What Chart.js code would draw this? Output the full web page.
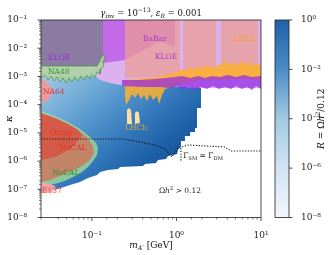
<!DOCTYPE html>
<html>
<head>
<meta charset="utf-8">
<script src="https://cdn.jsdelivr.net/npm/chart.js@4.4.1/dist/chart.umd.min.js"></script>
<style>
  html, body { margin: 0; padding: 0; background: #fff; }
  #wrap { position: relative; width: 328px; height: 255px; }
</style>
</head>
<body>
<div id="wrap"><canvas id="chart" width="328" height="255"></canvas></div>
<script>
// --- axis ranges ---
const massRange = [0.025, 10];      // m_A' [GeV]
const kappaRange = [1e-8, 1e-1];    // kappa
const ratioRange = [1e-8, 1];       // R = Omega h^2 / 0.12
const cbTickValues = [1, 1e-2, 1e-4, 1e-6, 1e-8];

// --- regions, [mass, kappa] ---
const relicRegion = [
  [0.025, 1.03e-3], [1.95, 1.03e-3], [1.95, 7.6e-5], [1.75, 7.6e-5], [1.75, 1.49e-5],
  [1.66, 1.49e-5], [1.66, 1.07e-5], [1.45, 1.07e-5], [1.45, 7.7e-6], [1.26, 7.7e-6],
  [1.26, 5.1e-6], [1.13, 5.1e-6], [1.13, 3.41e-6], [1.04, 2.46e-6], [1.02, 1.78e-6],
  [0.795, 1.51e-6], [0.752, 1.18e-6], [0.605, 1.09e-6], [0.573, 8.53e-7], [0.425, 7.85e-7],
  [0.402, 6.67e-7], [0.215, 6.15e-7], [0.204, 5.22e-7], [0.155, 4.82e-7], [0.125, 4.09e-7],
  [0.115, 3.2e-7], [0.0899, 2.51e-7], [0.0723, 1.81e-7], [0.0551, 1.42e-7], [0.0397, 1.02e-7],
  [0.0303, 8.68e-8], [0.025, 8.0e-8]
];
const kloeLightRegion = [
  [0.109, 0.1], [10, 0.1], [10, 3.89e-4], [1.90, 3.89e-4], [0.733, 4.58e-4],
  [0.246, 4.58e-4], [0.164, 5.85e-4], [0.125, 7.47e-4], [0.109, 1.03e-3]
];
const kloeRegion = [
  [0.025, 0.1], [0.962, 0.1], [0.962, 1.10e-2], [0.795, 1.41e-2], [0.640, 1.66e-2],
  [0.557, 1.53e-2], [0.486, 1.10e-2], [0.370, 7.34e-3], [0.246, 3.82e-3], [0.135, 2.99e-3],
  [0.025, 2.34e-3]
];
const babarRegion = [
  [0.246, 0.1], [1.10, 0.1], [1.10, 1.03e-3], [0.733, 1.03e-3], [0.486, 9.53e-4], [0.246, 8.79e-4]
];
const lhcbRegionA = [
  [1.20, 0.1], [2.94, 0.1], [2.94, 1.03e-3], [1.90, 9.53e-4], [1.20, 9.53e-4]
];
const lhcbRegionB = [
  [3.37, 0.1], [9.22, 0.1], [9.22, 1.12e-3], [5.65, 1.03e-3], [3.37, 1.03e-3]
];
const lhcbBand = [
  [0.246, 7.47e-4], [0.323, 8.11e-4], [0.425, 8.79e-4], [0.557, 9.53e-4], [0.733, 1.12e-3],
  [0.887, 1.32e-3], [1.04, 1.44e-3], [1.16, 1.83e-3], [1.30, 1.56e-3], [1.45, 2.16e-3],
  [1.61, 1.69e-3], [1.80, 2.34e-3], [2.06, 1.83e-3], [2.30, 2.54e-3], [2.63, 1.99e-3],
  [2.94, 2.34e-3], [3.46, 2.75e-3], [3.75, 3.52e-3], [4.19, 2.54e-3], [4.67, 3.24e-3],
  [5.20, 2.34e-3], [5.80, 3.52e-3], [6.47, 2.75e-3], [7.21, 3.24e-3], [8.04, 2.34e-3],
  [8.97, 2.99e-3], [10, 2.34e-3],
  [10, 7.47e-4], [6.47, 8.11e-4], [4.30, 8.11e-4], [2.86, 7.47e-4], [1.90, 7.47e-4],
  [1.45, 6.34e-4], [1.10, 5.39e-4], [0.887, 4.22e-4], [0.733, 3.58e-4], [0.675, 2.19e-4],
  [0.622, 1.05e-4], [0.589, 2.02e-4], [0.528, 1.46e-4], [0.486, 2.38e-4], [0.449, 1.35e-4],
  [0.413, 2.19e-4], [0.381, 1.58e-4], [0.351, 2.58e-4], [0.323, 1.72e-4], [0.298, 2.38e-4],
  [0.275, 1.46e-4], [0.253, 9.70e-5], [0.246, 2.02e-4]
];
const violetBand = [
  [0.227, 7.47e-4], [0.370, 7.47e-4], [0.557, 8.11e-4], [0.733, 8.79e-4], [0.962, 9.53e-4],
  [1.16, 1.03e-3], [1.45, 8.79e-4], [1.80, 1.03e-3], [2.18, 8.79e-4], [2.63, 1.03e-3],
  [3.27, 9.53e-4], [4.07, 1.12e-3], [5.06, 9.53e-4], [6.29, 1.12e-3], [7.83, 9.53e-4],
  [10, 1.03e-3],
  [10, 3.58e-4], [8.73, 4.58e-4], [7.83, 3.30e-4], [6.83, 4.22e-4], [5.96, 3.58e-4],
  [5.06, 4.58e-4], [4.42, 3.58e-4], [3.75, 4.22e-4], [3.18, 3.58e-4], [2.70, 4.58e-4],
  [2.30, 3.58e-4], [1.95, 4.22e-4], [1.66, 3.30e-4], [1.41, 4.22e-4], [1.20, 3.58e-4],
  [1.02, 4.58e-4], [0.840, 3.89e-4], [0.640, 4.22e-4], [0.425, 4.22e-4], [0.227, 4.58e-4]
];
const lhcbIslandA = [[0.260, 6.45e-5], [0.275, 7.60e-5], [0.290, 6.45e-5], [0.298, 2.06e-5], [0.260, 2.06e-5]];
const lhcbIslandB = [[0.323, 5.05e-5], [0.341, 5.94e-5], [0.360, 5.05e-5], [0.370, 2.23e-5], [0.323, 2.06e-5]];
const kloeDarkRegion = [
  [0.025, 0.1], [0.135, 0.1], [0.135, 5.74e-3], [0.125, 3.24e-3], [0.115, 2.34e-3], [0.025, 2.34e-3]
];
const na48Region = [
  [0.025, 2.34e-3], [0.115, 2.34e-3], [0.125, 3.82e-3], [0.135, 6.24e-3], [0.143, 4.50e-3],
  [0.135, 3.24e-3], [0.139, 2.34e-3], [0.128, 1.83e-3], [0.125, 1.22e-3], [0.115, 1.44e-3],
  [0.109, 9.53e-4], [0.100, 1.22e-3], [0.0950, 8.11e-4], [0.0875, 1.12e-3], [0.0807, 7.47e-4],
  [0.0743, 1.03e-3], [0.0685, 6.89e-4], [0.0631, 9.53e-4], [0.0582, 6.34e-4], [0.0536, 8.79e-4],
  [0.0494, 5.85e-4], [0.0455, 8.79e-4], [0.0419, 6.34e-4], [0.0387, 9.53e-4], [0.0356, 6.89e-4],
  [0.0328, 1.03e-3], [0.0303, 7.47e-4], [0.0279, 1.12e-3], [0.025, 8.79e-4]
];
const na64Region = [
  [0.025, 8.11e-4], [0.0286, 6.89e-4], [0.0319, 4.97e-4], [0.0337, 3.04e-4],
  [0.0328, 1.86e-4], [0.0294, 1.35e-4], [0.025, 1.14e-4]
];
const nucalGreenRegion = [
  [0.025, 5.94e-5], [0.0366, 3.95e-5], [0.0522, 2.42e-5], [0.0723, 1.37e-5], [0.0950, 7.13e-6],
  [0.112, 4.36e-6], [0.118, 2.90e-6], [0.115, 1.64e-6], [0.103, 1.00e-6], [0.0899, 6.15e-7],
  [0.0764, 4.09e-7], [0.0631, 2.95e-7], [0.0508, 2.13e-7], [0.0397, 1.67e-7], [0.0319, 1.42e-7],
  [0.025, 1.31e-7]
];
const nucalRedRegion = [
  [0.025, 5.05e-5], [0.0419, 2.85e-5], [0.0631, 1.49e-5], [0.0851, 7.71e-6], [0.103, 3.41e-6],
  [0.106, 1.93e-6], [0.0950, 1.09e-6], [0.0764, 6.68e-7], [0.0582, 4.44e-7], [0.0419, 2.95e-7],
  [0.0319, 2.13e-7], [0.025, 1.81e-7]
];
const orsayRegion = [
  [0.025, 5.05e-5], [0.0366, 3.36e-5], [0.0522, 2.06e-5], [0.0685, 1.26e-5], [0.0764, 8.38e-6],
  [0.0631, 3.71e-6], [0.0481, 2.09e-6], [0.0366, 1.39e-6], [0.025, 1.09e-6]
];
const e137Region = [
  [0.025, 1.67e-7], [0.0319, 1.54e-7], [0.0366, 1.31e-7], [0.0376, 1.02e-7], [0.0337, 8.0e-8], [0.025, 7.37e-8]
];
// Gamma_SM = Gamma_DM contour
const equalWidthLine = [
  [0.025, 6.05e-6], [0.233, 6.05e-6], [0.370, 4.73e-6], [0.557, 3.71e-6], [0.733, 2.67e-6],
  [0.887, 1.39e-6], [1.04, 2.90e-6], [1.37, 3.71e-6], [3.75, 3.15e-6], [4.42, 2.27e-6], [10, 2.27e-6]
];
const equalWidthDrop = [[1.13, 2.90e-6], [1.13, 9.25e-7]];

// --- styles ---
const SERIF = '"DejaVu Serif", serif';
const cbColors = ['#1f60a8', '#4b8dc6', '#a3cae3', '#d3e3f3', '#f1f6fc'];

const sup = s => String(s).replace(/[-0-9]/g, c => ({'-': '⁻', '0': '⁰', '1': '¹', '2': '²', '3': '³', '4': '⁴', '5': '⁵', '6': '⁶', '7': '⁷', '8': '⁸', '9': '⁹'})[c]);
const isDecade = v => { const e = Math.log10(v); return Math.abs(e - Math.round(e)) < 1e-6; };
const decadeLabel = v => isDecade(v) ? '10' + sup(Math.round(Math.log10(v))) : '';

function relicGradient(ctx) {
  const chart = ctx.chart;
  if (!chart.chartArea) return 'rgba(0,0,0,0)';
  const xs = chart.scales.x, ys = chart.scales.y;
  const g = chart.ctx.createLinearGradient(
    xs.getPixelForValue(0.025), ys.getPixelForValue(1e-3),
    xs.getPixelForValue(0.28), ys.getPixelForValue(1.4e-7));
  g.addColorStop(0, '#a3cbe7');
  g.addColorStop(0.2, '#7fb4dc');
  g.addColorStop(0.45, '#5597cd');
  g.addColorStop(0.7, '#3479bb');
  g.addColorStop(0.9, '#2063a9');
  g.addColorStop(1, '#1a5ba2');
  return g;
}

const layers = [
  { pts: relicRegion, fill: relicGradient },
  { pts: kloeLightRegion, fill: '#dcb1f0' },
  { pts: kloeRegion, fill: 'rgba(192,100,232,0.92)' },
  { pts: babarRegion, fill: 'rgba(236,158,146,0.72)' },
  { pts: lhcbRegionA, fill: 'rgba(236,158,146,0.72)' },
  { pts: lhcbRegionB, fill: 'rgba(236,158,146,0.72)' },
  { pts: lhcbBand, fill: 'rgba(250,175,50,0.88)' },
  { pts: violetBand, fill: 'rgba(145,35,230,0.7)' },
  { pts: lhcbIslandA, fill: '#fddfa2' },
  { pts: lhcbIslandB, fill: '#fddfa2' },
  { pts: kloeDarkRegion, fill: '#8b7ba3' },
  { pts: na48Region, fill: 'rgba(172,204,165,0.92)', line: '#3a973a', lw: 0.7 },
  { pts: na64Region, fill: 'rgba(245,150,150,0.85)' },
  { pts: nucalGreenRegion, fill: 'rgba(160,218,150,0.8)' },
  { pts: nucalRedRegion, fill: 'rgba(228,90,70,0.62)' },
  { pts: orsayRegion, fill: 'rgba(225,55,45,0.55)' },
  { pts: e137Region, fill: 'rgba(255,165,165,0.9)' },
  { pts: equalWidthLine, dotted: true },
  { pts: equalWidthDrop, dotted: true }
];

const datasets = layers.map((l, i) => ({
  data: l.pts.map(([x, y]) => ({ x, y })),
  showLine: true,
  pointRadius: 0,
  tension: 0,
  order: layers.length - i,
  fill: l.dotted ? false : 'shape',
  backgroundColor: l.fill || 'rgba(0,0,0,0)',
  borderColor: l.dotted ? '#111' : (l.line || 'rgba(0,0,0,0)'),
  borderWidth: l.dotted ? 1.1 : (l.lw || 0.01),
  borderDash: l.dotted ? [1.2, 1.6] : []
}));

const regionLabels = [
  ['KLOE', 0.0303, 4.5e-3, '#9a2fd6'],
  ['NA48', 0.0303, 1.44e-3, '#2f8f2f'],
  ['NA64', 0.0264, 2.81e-4, '#e8302a'],
  ['Orsay', 0.0319, 9.87e-6, '#e8302a'],
  ['NuCAL', 0.0409, 2.9e-6, '#e8302a'],
  ['NuCAL', 0.0337, 3.77e-7, '#2f8f2f'],
  ['E137', 0.0257, 8.68e-8, '#ff3b3b'],
  ['BaBar', 0.402, 2.12e-2, '#a83ad6'],
  ['KLOE', 0.557, 4.88e-3, '#a83ad6'],
  ['LHCb', 4.67, 2.12e-2, '#f5a623'],
  ['LHCb', 0.246, 1.49e-5, '#d9a441']
];

function drawRich(ctx, parts, x, y, align) {
  const fontOf = p => `${p[2] ? 'italic ' : ''}${p[1]}px ${SERIF}`;
  let w = 0;
  for (const p of parts) { ctx.font = fontOf(p); w += ctx.measureText(p[0]).width; }
  let cx = align === 'center' ? x - w / 2 : x;
  ctx.textAlign = 'left';
  ctx.textBaseline = 'alphabetic';
  for (const p of parts) {
    ctx.font = fontOf(p);
    ctx.fillText(p[0], cx, y + (p[3] || 0));
    cx += ctx.measureText(p[0]).width;
  }
}

function drawTickMarks(ctx, scale, side) {
  ctx.strokeStyle = '#222';
  for (const t of scale.ticks) {
    const v = t.value;
    const major = isDecade(v);
    const len = major ? 3.5 : 2;
    ctx.lineWidth = major ? 0.8 : 0.6;
    const p = scale.getPixelForValue(v);
    ctx.beginPath();
    if (side === 'bottom') { ctx.moveTo(p, scale.top); ctx.lineTo(p, scale.top + len); }
    else { ctx.moveTo(scale.right, p); ctx.lineTo(scale.right - len, p); }
    ctx.stroke();
  }
}

const overlay = {
  id: 'overlay',
  afterDatasetsDraw(chart) {
    const { ctx, scales: { x, y } } = chart;
    ctx.save();
    ctx.font = `7.5px ${SERIF}`;
    ctx.textAlign = 'left';
    ctx.textBaseline = 'middle';
    for (const [t, mx, ky, c] of regionLabels) {
      ctx.fillStyle = c;
      ctx.fillText(t, x.getPixelForValue(mx), y.getPixelForValue(ky));
    }
    ctx.fillStyle = '#222';
    drawRich(ctx, [['Γ', 7.5], ['SM', 5.2, false, 1.5], [' = Γ', 7.5], ['DM', 5.2, false, 1.5]],
      x.getPixelForValue(1.2), y.getPixelForValue(1.64e-6) + 3, 'left');
    drawRich(ctx, [['Ω', 7.5], ['h', 7.5, true], ['2', 5.2, false, -3], [' > 0.12', 7.5]],
      x.getPixelForValue(0.62), y.getPixelForValue(9.4e-8) + 3, 'left');
    ctx.restore();
  },
  afterDraw(chart) {
    const { ctx, chartArea: a, scales: { x, y, cb } } = chart;
    ctx.save();
    // spines
    ctx.strokeStyle = '#222';
    ctx.lineWidth = 0.8;
    ctx.strokeRect(a.left, a.top, a.right - a.left, a.bottom - a.top);
    drawTickMarks(ctx, x, 'bottom');
    drawTickMarks(ctx, y, 'left');

    // colorbar
    const cbL = a.right + 14, cbR = a.right + 28;
    const top = cb.getPixelForValue(ratioRange[1]), bot = cb.getPixelForValue(ratioRange[0]);
    const g = ctx.createLinearGradient(0, top, 0, bot);
    cbTickValues.forEach((v, i) => g.addColorStop((cb.getPixelForValue(v) - top) / (bot - top), cbColors[i]));
    ctx.fillStyle = g;
    ctx.fillRect(cbL, top, cbR - cbL, bot - top);
    ctx.strokeRect(cbL, top, cbR - cbL, bot - top);
    for (const v of cbTickValues) {
      const p = cb.getPixelForValue(v);
      ctx.beginPath(); ctx.moveTo(cbR, p); ctx.lineTo(cbR + 3.5, p); ctx.stroke();
    }

    // titles
    ctx.fillStyle = '#111';
    const cx = (a.left + a.right) / 2;
    drawRich(ctx, [['γ', 8.5, true], ['inv', 6, false, 2], [' = 10', 8.5], ['−13', 6, false, -4],
      [', ', 8.5], ['ε', 8.5, true], ['R', 6, true, 2], [' = 0.001', 8.5]], cx, 16, 'center');
    drawRich(ctx, [['m', 9, true], ['A′', 6.3, true, 2], [' [GeV]', 9]], cx, 248, 'center');

    ctx.save();
    ctx.translate(9, (a.top + a.bottom) / 2);
    ctx.rotate(-Math.PI / 2);
    drawRich(ctx, [['κ', 10, true]], 0, 3, 'center');
    ctx.restore();

    ctx.save();
    ctx.translate(321, (a.top + a.bottom) / 2);
    ctx.rotate(-Math.PI / 2);
    drawRich(ctx, [['R', 9, true], [' = Ω', 9], ['h', 9, true], ['2', 6.2, false, -4], ['/0.12', 9]], 0, 3, 'center');
    ctx.restore();
    ctx.restore();
  }
};

const tickFont = { family: SERIF, size: 9 };

new Chart(document.getElementById('chart'), {
  type: 'scatter',
  data: { datasets },
  options: {
    responsive: false,
    animation: false,
    events: [],
    layout: { padding: { top: 20, left: 0, right: 0, bottom: 0 } },
    plugins: { legend: { display: false }, tooltip: { enabled: false } },
    scales: {
      x: {
        type: 'logarithmic', min: massRange[0], max: massRange[1],
        grid: { display: false }, border: { display: false },
        ticks: { font: tickFont, color: '#222', padding: 5, autoSkip: false, maxRotation: 0, callback: decadeLabel },
        afterFit: s => { s.height = 37.5; s.paddingLeft = 0; s.paddingRight = 0; }
      },
      y: {
        type: 'logarithmic', min: kappaRange[0], max: kappaRange[1],
        grid: { display: false }, border: { display: false },
        ticks: { font: tickFont, color: '#222', padding: 6, autoSkip: false, callback: decadeLabel },
        afterFit: s => { s.width = 41; s.paddingTop = 0; s.paddingBottom = 0; }
      },
      cb: {
        type: 'logarithmic', position: 'right', min: ratioRange[0], max: ratioRange[1],
        grid: { display: false }, border: { display: false },
        ticks: { font: tickFont, color: '#222', padding: 32, autoSkip: false, callback: decadeLabel },
        afterBuildTicks: s => { s.ticks = cbTickValues.map(v => ({ value: v })); },
        afterFit: s => { s.width = 67; s.paddingTop = 0; s.paddingBottom = 0; }
      }
    }
  },
  plugins: [overlay]
});
</script>
</body>
</html>
